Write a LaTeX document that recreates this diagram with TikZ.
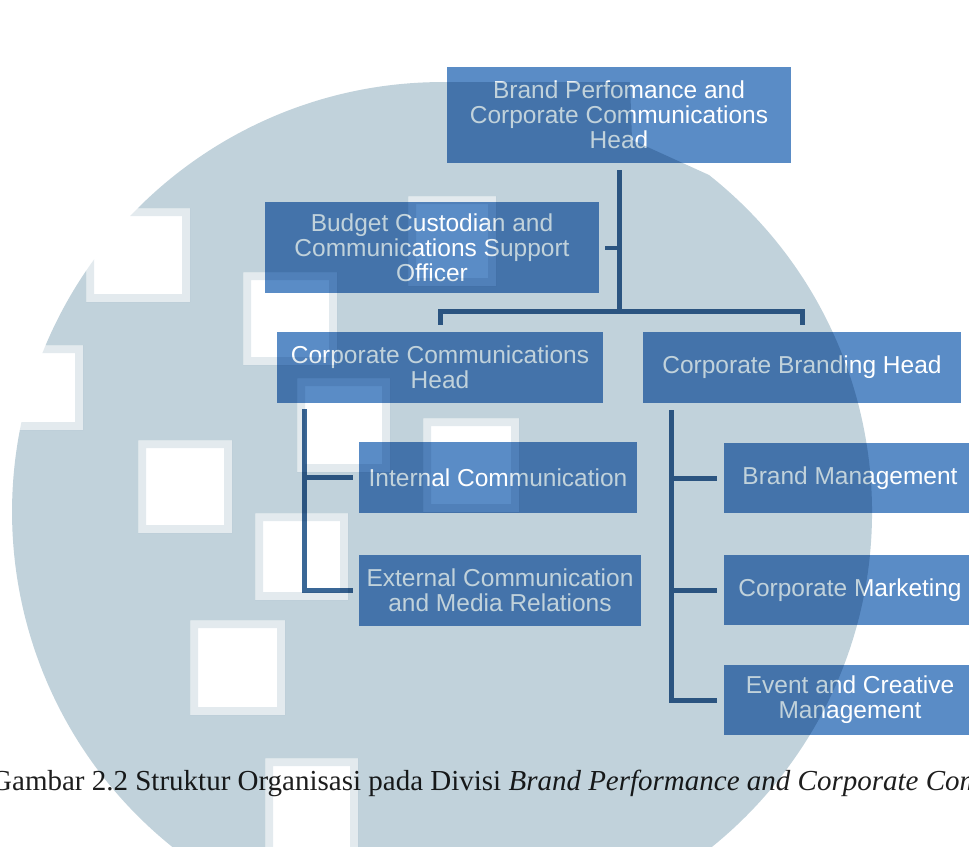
\documentclass[tikz,border=0pt]{standalone}
\usepackage{fontspec}
\setmainfont{Liberation Serif}
\newfontfamily\boxfont{Liberation Sans}
\usetikzlibrary{calc}
\definecolor{boxblue}{HTML}{5A8CC6}
\definecolor{linkblue}{HTML}{3A6796}
\definecolor{wmgrey}{HTML}{C1D2DB}
\definecolor{captiongrey}{HTML}{1E1E1E}
\tikzset{
  orgbox/.style={fill=boxblue, text=white, align=center, inner sep=0pt,
    font=\boxfont\fontsize{24.5}{25}\selectfont, minimum height=71},
  link/.style={draw=linkblue, line width=5pt},
  stub/.style={draw=linkblue, line width=4pt},
  wmfill/.style={fill=wmgrey},
}
% square openings in the backdrop disc: outer edge, then inner edge
\newcommand{\holeouter}{%
  (86,208) rectangle (190,302)
  (243,272) rectangle (337,365)
  (297,378) rectangle (390,472)
  (138,440) rectangle (232,533)
  (255,513) rectangle (348,600)
  (190,620) rectangle (285,715)
  (265,758) rectangle (358,860)
  (423,418) rectangle (519,512)
  (408,196) rectangle (496,286)
  (-20,345) rectangle (83,430)}
\newcommand{\holeinner}{%
  (94,216) rectangle (182,294)
  (251,280) rectangle (329,357)
  (305,386) rectangle (382,464)
  (146,448) rectangle (224,525)
  (263,521) rectangle (340,592)
  (198,628) rectangle (277,707)
  (273,766) rectangle (350,860)
  (431,426) rectangle (511,504)
  (416,204) rectangle (488,278)
  (-20,353) rectangle (75,422)}
\begin{document}
\begin{tikzpicture}[x=1pt,y=-1pt]
\useasboundingbox (0,0) rectangle (969,846);
\clip (0,0) rectangle (969,846);
\fill[white] (0,0) rectangle (969,846);

% boxes
\node[orgbox, minimum width=344, minimum height=96] (top) at (619,115)
  {Brand Perfomance and\\Corporate Communications\\Head};
\node[orgbox, minimum width=334, minimum height=91] (budget) at (432,247.5)
  {Budget Custodian and\\Communications Support\\Officer};
\node[orgbox, minimum width=326] (cch) at (440,367.5)
  {Corporate Communications\\Head};
\node[orgbox, minimum width=318] (cbh) at (802,367.5)
  {Corporate Branding Head};
\node[orgbox, minimum width=278] (internal) at (498,477.5)
  {Internal Communication};
\node[orgbox, minimum width=282] (external) at (500,590.5)
  {External Communication\\and Media Relations};
\node[orgbox, minimum width=252, minimum height=70] (brand) at (850,478)
  {Brand Management};
\node[orgbox, minimum width=252, minimum height=70] (marketing) at (850,590)
  {Corporate Marketing};
\node[orgbox, minimum width=252, minimum height=70] (event) at (850,700)
  {Event and Creative\\Management};

% connectors
\coordinate (topdrop) at ($(top.south)+(0,7)$);
\coordinate (bus) at ($(top.south)+(0,148)$);
\coordinate (leftdrop) at ($(cch.north)+(0,-7)$);
\coordinate (rightdrop) at ($(cbh.north)+(0,-7)$);
\draw[link] (topdrop) -- (bus);
\draw[link] (leftdrop) |- (bus) -| (rightdrop);
\draw[stub] ($(budget.east)+(6,0)$) -- (budget.east -| top.south);

\coordinate (lv) at ($(cch.south west)+(28,6)$);
\draw[link] (lv) |- ($(external.west)+(-6,0)$);
\draw[link] ($(internal.west)+(-6,0)$) -- (internal.west -| lv);

\coordinate (rv) at ($(cbh.south west)+(29,7)$);
\draw[link] (rv) |- ($(event.west)+(-7,0)$);
\draw[link] ($(brand.west)+(-7,0)$) -- (brand.west -| rv);
\draw[link] ($(marketing.west)+(-7,0)$) -- (marketing.west -| rv);

% caption
\node[anchor=base west, inner sep=0pt, text=captiongrey,
  font=\fontsize{29}{29}\selectfont] (caption) at (-9,790)
  {Gambar 2.2 Struktur Organisasi pada Divisi \textit{Brand Performance and Corporate Communications}};

% tinted backdrop disc, laid over everything
\begin{scope}[blend mode=multiply]
  \clip (442,82) -- (630,82) -- (632,140) -- (709,175)
    arc[start angle=-51.62, end angle=270, radius=430] -- cycle;
  \fill[wmfill, even odd rule] (-30,-30) rectangle (1000,900) \holeouter;
  \fill[wmfill, opacity=0.45, even odd rule] \holeouter \holeinner;
\end{scope}
\end{tikzpicture}
\end{document}
